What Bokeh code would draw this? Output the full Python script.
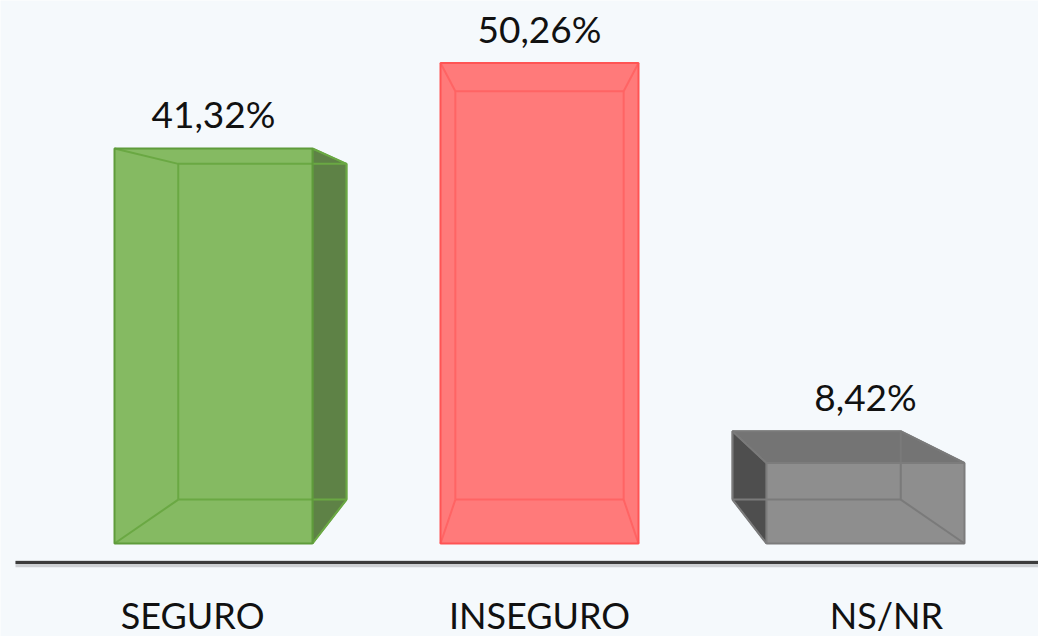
from bokeh.plotting import figure
from bokeh.models import Range1d
from bokeh.core.properties import value
from bokeh.embed import file_html
from bokeh.resources import INLINE

# ---- data ----
categories = ["SEGURO", "INSEGURO", "NS/NR"]
percentages = [41.32, 50.26, 8.42]

# ---- styles ----
front_colors = ["#85ba62", "#ff7a7a", "#8e8e8e"]
side_colors = ["#5e8246", "#ff6a6a", "#4e4e4e"]
top_colors = ["#6f9a52", "#ff6a6a", "#747474"]
edge_colors = ["#6aa843", "#ff6464", "#7a7a7a"]
outline_colors = ["#5f9c3b", "#ff5454", "#7c7c7c"]
BG = "#f5f9fc"

W, H = 1038, 636
base_px = 543.0      # baseline distance from top of canvas
unit_px = 9.56       # pixels per percent
first_px = 213.0     # first bar centre from left
step_px = 326.0      # pixels between bar centres
half_w = 99.0 / step_px
vp_x, vp_y, depth = 1.0, 30.6, 0.85   # vanishing point and depth scale
label_plane = 1.064

p = figure(width=W, height=H, output_backend="svg", toolbar_location=None,
           x_range=Range1d(-first_px / step_px, (W - first_px) / step_px),
           y_range=Range1d(-(H - base_px) / unit_px, base_px / unit_px),
           min_border=0, background_fill_color=BG, border_fill_color=BG)
p.axis.visible = False
p.grid.visible = False
p.outline_line_color = None

# axis line
x_left = -first_px / step_px + 15.0 / step_px
x_right = (W - first_px) / step_px
y_axis = -19.0 / unit_px
p.segment(x0=[x_left], y0=[y_axis - 0.12], x1=[x_right], y1=[y_axis - 0.12],
          line_color="#cdd0d3", line_width=7)
p.segment(x0=[x_left], y0=[y_axis], x1=[x_right], y1=[y_axis],
          line_color="#3c3c3c", line_width=3)


def proj(x, y):
    return vp_x + depth * (x - vp_x), vp_y + depth * (y - vp_y)


lab_x, lab_y, lab_t = [], [], []
for i, (cat, v) in enumerate(zip(categories, percentages)):
    fx0, fx1, fy0, fy1 = i - half_w, i + half_w, 0.0, v
    bx0, by0 = proj(fx0, fy0)
    bx1, by1 = proj(fx1, fy1)
    F = {"ll": (fx0, fy0), "lr": (fx1, fy0), "ul": (fx0, fy1), "ur": (fx1, fy1)}
    B = {"ll": (bx0, by0), "lr": (bx1, by0), "ul": (bx0, by1), "ur": (bx1, by1)}

    faces_x, faces_y, faces_c = [], [], []

    def face(a, b, col):
        pts = [F[a], F[b], B[b], B[a]]
        faces_x.append([q[0] for q in pts])
        faces_y.append([q[1] for q in pts])
        faces_c.append(col)

    if by1 > fy1:
        face("ul", "ur", top_colors[i])
    if bx0 < fx0:
        face("ll", "ul", side_colors[i])
    if bx1 > fx1:
        face("lr", "ur", side_colors[i])
    if faces_x:
        p.patches(xs=faces_x, ys=faces_y, fill_color=faces_c,
                  line_color=edge_colors[i], line_width=1.5)

    # front face
    p.quad(left=[fx0], right=[fx1], bottom=[fy0], top=[fy1],
           fill_color=front_colors[i], line_color=None)

    # inner edges: back rectangle and connectors
    xs = [[bx0, bx1, bx1, bx0, bx0]]
    ys = [[by0, by0, by1, by1, by0]]
    for k in ("ll", "lr", "ul", "ur"):
        xs.append([F[k][0], B[k][0]])
        ys.append([F[k][1], B[k][1]])
    p.multi_line(xs=xs, ys=ys, line_color=edge_colors[i], line_width=2)

    # front outline
    p.quad(left=[fx0], right=[fx1], bottom=[fy0], top=[fy1],
           fill_color=None, line_color=outline_colors[i], line_width=2)

    lab_x.append(i)
    lab_y.append(max(fy1, by1) + 35.0 / unit_px)
    lab_t.append(f"{v:.2f}".replace(".", ",") + "%")

p.text(x=lab_x, y=lab_y, text=lab_t, text_align="center",
       text_baseline="middle",
       text_font=value("Lato"), text_font_size="37px", text_color="#111111")

cat_x = [vp_x + label_plane * (i - vp_x) for i in range(len(categories))]
cat_y = [-(614 - base_px) / unit_px] * len(categories)
p.text(x=cat_x, y=cat_y, text=categories, text_align="center",
       text_baseline="middle",
       text_font=value("Lato"), text_font_size="36px", text_color="#111111")

open("out.html", "w").write(file_html(p, INLINE))
